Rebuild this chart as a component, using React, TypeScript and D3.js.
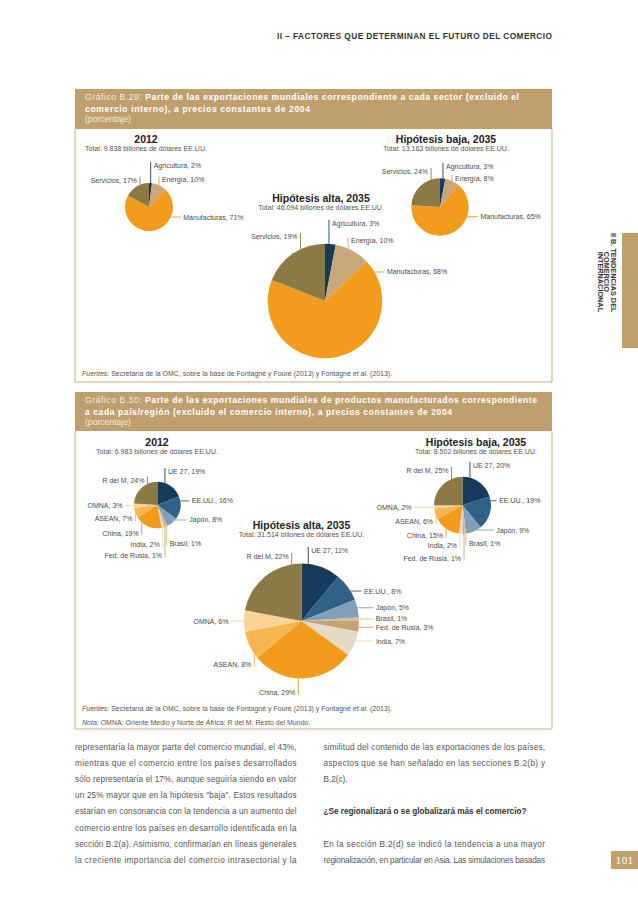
import React from 'react';
import * as d3 from 'd3';

const FONT = '"Liberation Sans", Arial, Helvetica, sans-serif';

// ---------- Data ----------
const sectorNames = ['Agricultura', 'Energía', 'Manufacturas', 'Servicios'];
const sectorShares2012 = [2, 10, 71, 17];
const sectorSharesBaja = [3, 8, 65, 24];
const sectorSharesAlta = [3, 10, 68, 19];
const sectorTotals = ['9.838', '13.163', '46.094'];

const regionNames = ['UE 27', 'EE.UU.', 'Japón', 'Brasil', 'Fed. de Rusia', 'India', 'China', 'ASEAN', 'OMNA', 'R del M'];
const regionShares2012 = [19, 16, 8, 1, 1, 2, 19, 7, 3, 24];
const regionSharesBaja = [20, 19, 9, 1, 1, 2, 15, 6, 2, 25];
const regionSharesAlta = [11, 8, 5, 1, 3, 7, 29, 8, 6, 22];
const regionTotals = ['6.983', '8.502', '31.514'];

const pieTitles = ['2012', 'Hipótesis baja, 2035', 'Hipótesis alta, 2035'];

const bodyLeft = [
  'representaría la mayor parte del comercio mundial, el 43%,',
  'mientras que el comercio entre los países desarrollados',
  'sólo representaría el 17%, aunque seguiría siendo en valor',
  'un 25% mayor que en la hipótesis "baja". Estos resultados',
  'estarían en consonancia con la tendencia a un aumento del',
  'comercio entre los países en desarrollo identificada en la',
  'sección B.2(a). Asimismo, confirmarían en líneas generales',
  'la creciente importancia del comercio intrasectorial y la',
];
const bodyRight = [
  'similitud del contenido de las exportaciones de los países,',
  'aspectos que se han señalado en las secciones B.2(b) y',
  'B.2(c).',
  '',
  '¿Se regionalizará o se globalizará más el comercio?',
  '',
  'En la sección B.2(d) se indicó la tendencia a una mayor',
  'regionalización, en particular en Asia. Las simulaciones basadas',
];

// ---------- Styles / layout ----------
const TAN = '#bf9f6e';
const BORDER = '#c0a674';
const sectorColors = ['#173b5b', '#c9a77b', '#f39b1c', '#8b7a46'];
const regionColors = ['#173b5b', '#2f6286', '#7fa0b6', '#d6bd95', '#c6a377', '#e6dac6', '#f39b1c', '#f7b552', '#f9d394', '#8b7a46'];

type Geo = { cx: number; cy: number; r: number; tx: number; ty: number };
type Spec = [number, string, number, string];

const geo29: Geo[] = [
  { cx: 149, cy: 207, r: 24, tx: 146, ty: 143 },
  { cx: 440, cy: 207, r: 28.7, tx: 446, ty: 143 },
  { cx: 325, cy: 301, r: 57.3, tx: 321, ty: 202 },
];
const geo30: Geo[] = [
  { cx: 157.3, cy: 505, r: 23.3, tx: 157, ty: 445.5 },
  { cx: 462.5, cy: 505.3, r: 28.5, tx: 476, ty: 445.5 },
  { cx: 301.5, cy: 621, r: 57.5, tx: 301.5, ty: 529 },
];

// [fraction inside slice, direction, leader length, text anchor]
const lay29: Spec[][] = [
  [[0.56, 'u', 21, 's'], [0.48, 'u', 9, 's'], [0.28, 'r', 10, 's'], [0.64, 'u', 8, 'e']],
  [[0.55, 'u', 15.5, 's'], [0.49, 'u', 6, 's'], [0.3, 'r', 11, 's'], [0.79, 'u', 12, 'e']],
  [[0.37, 'u', 24, 's'], [0.36, 'u', 11.5, 's'], [0.052, 'r', 10, 's'], [0.63, 'u', 16, 'e']],
];
const lay30: Spec[][] = [
  [[0.28, 'u', 15, 's'], [0.2, 'r', 9, 's'], [0.14, 'r', 11.6, 's'], [0.39, 'd', 18.7, 's'], [0.64, 'd', 31, 'e'],
   [0.64, 'd', 19.3, 'e'], [0.77, 'd', 12.7, 'e'], [0.49, 'd', 8, 'e'], [0.5, 'l', 9, 'e'], [0.71, 'u', 7.3, 'e']],
  [[0.21, 'u', 16, 's'], [0.128, 'r', 6, 's'], [0.3, 'r', 17, 's'], [0.1, 'd', 11.5, 's'], [0.15, 'd', 26.5, 'e'],
   [0.7, 'd', 13.5, 'e'], [0.52, 'd', 9, 'e'], [0.33, 'd', 8, 'e'], [0.45, 'l', 20, 'e'], [0.75, 'u', 12, 'e']],
  [[0.17, 'u', 17, 's'], [0.66, 'r', 11, 's'], [0.46, 'r', 16, 's'], [0.44, 'r', 14.3, 's'], [0.58, 'r', 14.7, 's'],
   [0.38, 'r', 18, 's'], [0.548, 'd', 16, 'e'], [0.167, 'd', 13, 'e'], [0.5, 'l', 13, 'e'], [0.876, 'u', 11.5, 'e']],
];

const LABEL_FILL = '#4a4a4a';

function Pie(props: {
  values: number[]; names: string[]; colors: string[]; geo: Geo; layout: Spec[]; title: string; total: string;
}) {
  const { values, names, colors, geo, layout, title, total } = props;
  const pie = d3.pie<number>().sort(null).value((d) => d);
  const arcs = pie(values);
  const arc = d3.arc<d3.PieArcDatum<number>>().innerRadius(0).outerRadius(geo.r);
  return (
    <g>
      <text x={geo.tx} y={geo.ty} textAnchor="middle" fontWeight="bold" fontSize={10.5} fill="#222">{title}</text>
      <text x={geo.tx} y={geo.ty + 8} textAnchor="middle" fontSize={7} fill="#555">
        {`Total: ${total} billones de dólares EE.UU.`}
      </text>
      <g transform={`translate(${geo.cx},${geo.cy})`}>
        {arcs.map((a, i) => (
          <path key={i} d={arc(a) || ''} fill={colors[i]} />
        ))}
        {arcs.map((a, i) => {
          const [frac, dir, len, anc] = layout[i];
          const th = a.startAngle + frac * (a.endAngle - a.startAngle);
          const ex = geo.r * Math.sin(th);
          const ey = -geo.r * Math.cos(th);
          let x2 = ex, y2 = ey, tx = 0, ty = 0, ta = 'start';
          if (dir === 'u') { y2 = ey - len; tx = anc === 's' ? ex + 3 : ex - 3; ty = y2 + 6; ta = anc === 's' ? 'start' : 'end'; }
          else if (dir === 'd') { y2 = ey + len; tx = anc === 's' ? ex + 3 : ex - 3; ty = y2 + 0.5; ta = anc === 's' ? 'start' : 'end'; }
          else if (dir === 'r') { x2 = ex + len; tx = x2 + 2.5; ty = ey + 2.5; ta = 'start'; }
          else { x2 = ex - len; tx = x2 - 2.5; ty = ey + 2.5; ta = 'end'; }
          return (
            <g key={'l' + i}>
              <line x1={ex} y1={ey} x2={x2} y2={y2} stroke={colors[i]} strokeWidth={0.9} />
              <text x={tx} y={ty} textAnchor={ta} fontSize={7} fill={LABEL_FILL}>{`${names[i]}, ${values[i]}%`}</text>
            </g>
          );
        })}
      </g>
    </g>
  );
}

function Band(props: { y: number; h: number; num: string; l1: string; l2: string; w1: number; w2: number }) {
  const { y, h, num, l1, l2, w1, w2 } = props;
  return (
    <g>
      <rect x={75} y={y} width={477} height={h} fill={TAN} />
      <text x={85} y={y + 10.5} fontSize={8.6} textLength={w1} lengthAdjust="spacing">
        <tspan fill="#f3eadb">{`Gráfico ${num}: `}</tspan>
        <tspan fill="#ffffff" fontWeight="bold">{l1}</tspan>
      </text>
      <text x={85} y={y + 22.5} fontSize={8.6} fill="#ffffff" fontWeight="bold" textLength={w2} lengthAdjust="spacing">{l2}</text>
      <text x={85} y={y + 33} fontSize={8.6} fill="#f3eadb">(porcentaje)</text>
    </g>
  );
}

export default function App() {
  const colW = 221.5;
  const leftX = 75;
  const rightX = 323.5;
  const lineY0 = 749.5;
  const lineH = 16.2;
  const sectorSets = [sectorShares2012, sectorSharesBaja, sectorSharesAlta];
  const regionSets = [regionShares2012, regionSharesBaja, regionSharesAlta];
  return (
    <svg width={638} height={903} viewBox="0 0 638 903" style={{ position: 'absolute', left: 0, top: 0, background: '#fff' }} fontFamily={FONT}>
      <rect x={0} y={0} width={638} height={903} fill="#fff" />
      <text x={552} y={39} textAnchor="end" fontSize={8.3} fontWeight="bold" fill="#333" textLength={275} lengthAdjust="spacing">
        II – FACTORES QUE DETERMINAN EL FUTURO DEL COMERCIO
      </text>

      {/* Gráfico B.29 */}
      <Band y={89} h={40} num="B.29" l1="Parte de las exportaciones mundiales correspondiente a cada sector (excluido el" l2="comercio interno), a precios constantes de 2004" w1={434} w2={225} />
      <path d="M75,129 V382 H552 V129" fill="none" stroke={BORDER} strokeWidth={0.9} />
      {sectorSets.map((vals, k) => (
        <Pie key={k} values={vals} names={sectorNames} colors={sectorColors} geo={geo29[k]} layout={lay29[k]} title={pieTitles[k]} total={sectorTotals[k]} />
      ))}
      <text x={82} y={375.5} fontSize={7} fill="#555">
        <tspan fontStyle="italic">Fuentes:</tspan> Secretaría de la OMC, sobre la base de Fontagné y Fouré (2013) y Fontagné <tspan fontStyle="italic">et al.</tspan> (2013).
      </text>

      {/* Gráfico B.30 */}
      <Band y={392} h={39} num="B.30" l1="Parte de las exportaciones mundiales de productos manufacturados correspondiente" l2="a cada país/región (excluido el comercio interno), a precios constantes de 2004" w1={452} w2={367} />
      <path d="M75,431 V729 H552 V431" fill="none" stroke={BORDER} strokeWidth={0.9} />
      {regionSets.map((vals, k) => (
        <Pie key={k} values={vals} names={regionNames} colors={regionColors} geo={geo30[k]} layout={lay30[k]} title={pieTitles[k]} total={regionTotals[k]} />
      ))}
      <text x={82} y={711} fontSize={7} fill="#555">
        <tspan fontStyle="italic">Fuentes:</tspan> Secretaría de la OMC, sobre la base de Fontagné y Fouré (2013) y Fontagné <tspan fontStyle="italic">et al.</tspan> (2013).
      </text>
      <text x={82} y={724.5} fontSize={7} fill="#555">
        <tspan fontStyle="italic">Nota:</tspan> OMNA: Oriente Medio y Norte de África; R del M: Resto del Mundo.
      </text>

      {/* Side tab */}
      <rect x={622} y={233} width={16} height={115} fill={TAN} />
      <g transform="translate(610.7,233) rotate(90)" fontSize={7.3} fontWeight="bold" fill="#333">
        <text x={0} y={0}>II B. TENDENCIAS DEL</text>
        <text x={18.7} y={6.3}>COMERCIO</text>
        <text x={18.7} y={12.6}>INTERNACIONAL</text>
      </g>

      {/* Body text */}
      {bodyLeft.map((t, i) => (
        <text key={'bl' + i} x={leftX} y={lineY0 + i * lineH} fontSize={8.2} fill="#555" textLength={colW} lengthAdjust="spacing">{t}</text>
      ))}
      {bodyRight.map((t, i) => {
        if (!t) return null;
        const bold = i === 4;
        const justify = i === 0 || i === 1 || i === 6 || i === 7;
        return (
          <text key={'br' + i} x={rightX} y={lineY0 + i * lineH} fontSize={8.2} fill={bold ? '#333' : '#555'} fontWeight={bold ? 'bold' : 'normal'}
            {...(justify ? { textLength: colW, lengthAdjust: 'spacing' } : {})}>{t}</text>
        );
      })}

      {/* Page number */}
      <rect x={611} y={851} width={27} height={18} fill={TAN} />
      <text x={624.5} y={863.5} textAnchor="middle" fontSize={9.5} fill="#fff" fontFamily='"DejaVu Serif", serif'>101</text>
    </svg>
  );
}
